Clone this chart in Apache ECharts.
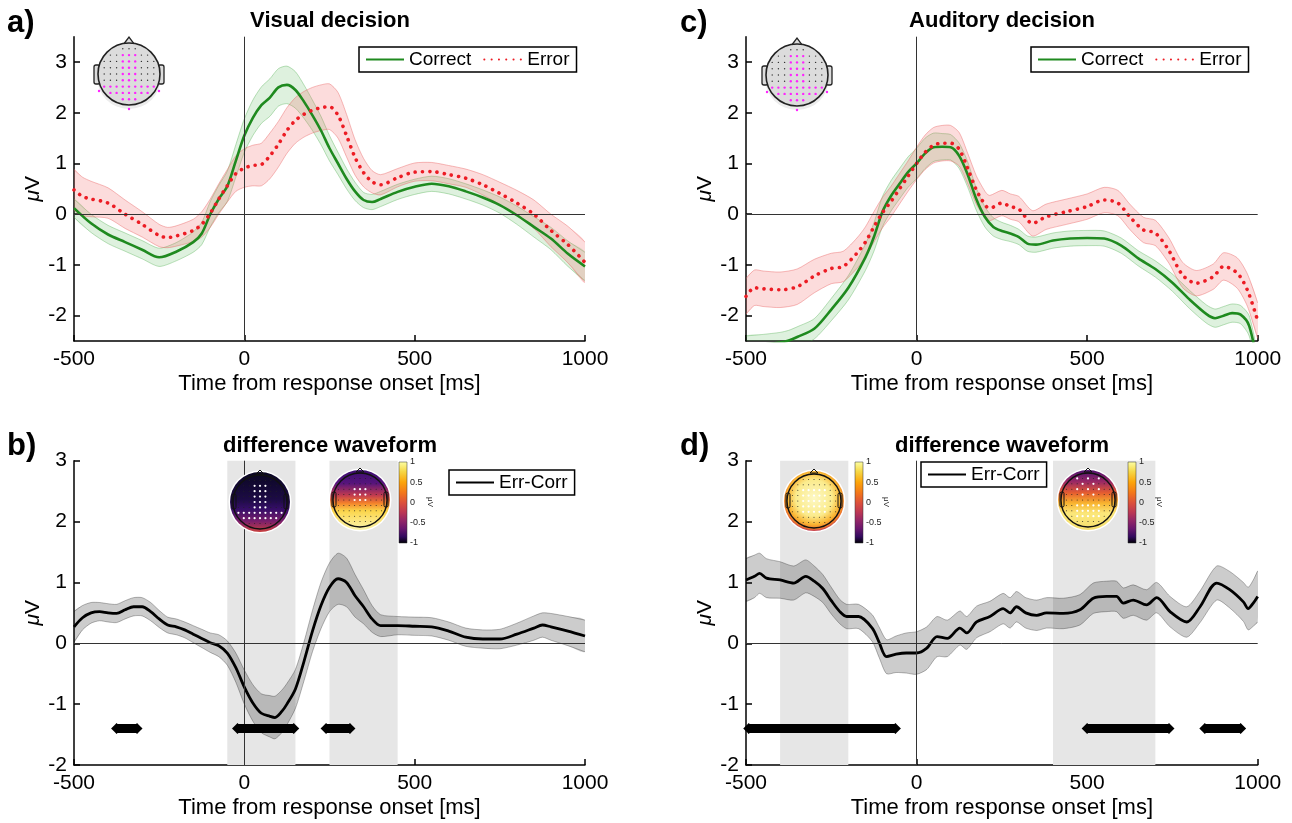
<!DOCTYPE html>
<html><head><meta charset="utf-8">
<script src="https://cdn.jsdelivr.net/npm/echarts@6/dist/echarts.min.js"></script>
<style>html,body{margin:0;padding:0;background:#fff}#c{width:1292px;height:823px}</style>
</head><body><div id="c"></div>
<script>
// ---------------- data ----------------
const xTicks = [-500, 0, 500, 1000];
const yTicks = [-2, -1, 0, 1, 2, 3];
const cbTicks = ['1', '0.5', '0', '-0.5', '-1'];

// Panel a: Visual decision
const tAC = [-500,-450,-400,-350,-300,-250,-200,-150,-125,-100,-75,-50,-25,0,25,50,75,100,125,150,175,200,225,250,275,300,325,350,375,400,450,500,550,600,650,700,750,800,850,900,950,1000];
const vAC = [0.12,-0.18,-0.4,-0.55,-0.7,-0.85,-0.74,-0.55,-0.38,0.0,0.3,0.55,1.05,1.55,1.9,2.15,2.3,2.5,2.55,2.45,2.22,1.95,1.65,1.3,1.0,0.7,0.45,0.28,0.24,0.3,0.44,0.54,0.6,0.55,0.45,0.33,0.18,-0.02,-0.25,-0.48,-0.78,-1.03];
const sAC = [0.18,0.18,0.18,0.18,0.18,0.18,0.18,0.2,0.22,0.25,0.27,0.3,0.32,0.33,0.35,0.36,0.37,0.37,0.37,0.36,0.33,0.3,0.28,0.25,0.22,0.2,0.18,0.15,0.15,0.15,0.15,0.15,0.15,0.15,0.15,0.15,0.16,0.18,0.2,0.22,0.25,0.28];
const tAE = [-500,-475,-450,-400,-350,-300,-250,-225,-200,-150,-125,-100,-75,-50,-25,0,25,50,75,100,125,150,175,200,225,250,275,300,325,350,375,400,450,500,550,600,650,700,750,800,850,900,950,1000];
const vAE = [0.48,0.35,0.3,0.22,0.0,-0.2,-0.42,-0.46,-0.43,-0.32,-0.2,0.02,0.3,0.56,0.8,0.91,0.96,0.98,1.15,1.38,1.65,1.85,1.97,2.05,2.1,2.12,1.95,1.55,1.12,0.82,0.64,0.58,0.72,0.83,0.84,0.78,0.71,0.58,0.41,0.22,0.0,-0.32,-0.6,-0.95];
const sAE = [0.4,0.38,0.35,0.3,0.28,0.25,0.22,0.2,0.2,0.22,0.25,0.28,0.3,0.32,0.35,0.38,0.4,0.42,0.45,0.45,0.45,0.45,0.45,0.45,0.45,0.45,0.45,0.42,0.35,0.28,0.22,0.2,0.18,0.18,0.18,0.18,0.18,0.2,0.22,0.25,0.28,0.32,0.36,0.4];

// Panel c: Auditory decision
const tCC = [-500,-450,-400,-375,-350,-300,-250,-200,-150,-125,-100,-75,-50,-25,0,25,50,75,100,125,150,175,200,225,250,275,300,325,350,400,450,500,550,600,650,700,750,800,850,875,900,925,950,975,1000];
const vCC = [-2.6,-2.57,-2.53,-2.49,-2.42,-2.26,-1.88,-1.45,-0.85,-0.45,0.05,0.36,0.6,0.83,1.0,1.2,1.32,1.33,1.32,1.15,0.78,0.3,-0.05,-0.25,-0.33,-0.38,-0.45,-0.58,-0.6,-0.52,-0.48,-0.47,-0.48,-0.62,-0.87,-1.08,-1.35,-1.68,-1.97,-2.05,-2.0,-1.95,-1.98,-2.2,-3.0];
const sCC = [0.2,0.2,0.2,0.2,0.2,0.2,0.22,0.24,0.26,0.28,0.3,0.3,0.3,0.3,0.3,0.3,0.28,0.26,0.25,0.25,0.25,0.22,0.2,0.18,0.17,0.16,0.15,0.15,0.15,0.15,0.15,0.15,0.15,0.15,0.15,0.16,0.17,0.18,0.18,0.18,0.18,0.18,0.18,0.2,0.22];
const tCE = [-500,-475,-450,-400,-350,-300,-250,-215,-175,-150,-125,-100,-75,-50,-25,0,25,50,75,100,125,150,175,190,205,215,250,275,300,340,380,440,500,550,590,625,665,700,740,780,820,870,900,940,970,1000];
const vCE = [-1.62,-1.45,-1.47,-1.49,-1.43,-1.22,-1.07,-1.03,-0.77,-0.55,-0.25,0.03,0.25,0.5,0.75,1.0,1.22,1.36,1.4,1.4,1.28,0.9,0.48,0.3,0.15,0.12,0.22,0.15,0.1,-0.18,-0.05,0.05,0.15,0.28,0.22,-0.05,-0.31,-0.37,-0.72,-1.2,-1.36,-1.23,-1.03,-1.16,-1.5,-2.1];
const sCE = [0.35,0.35,0.35,0.35,0.35,0.33,0.3,0.3,0.3,0.3,0.3,0.3,0.3,0.3,0.3,0.32,0.34,0.35,0.35,0.35,0.33,0.3,0.28,0.27,0.26,0.25,0.25,0.25,0.25,0.25,0.25,0.25,0.25,0.25,0.25,0.25,0.25,0.25,0.25,0.25,0.25,0.25,0.27,0.3,0.32,0.35];

// Panel b: difference waveform (visual)
const tB = [-500,-475,-450,-425,-400,-375,-350,-325,-300,-275,-250,-225,-200,-175,-150,-125,-100,-75,-50,-25,0,25,50,75,90,110,125,150,175,200,225,250,275,300,325,350,375,400,450,500,550,600,650,700,750,800,850,875,900,950,1000];
const vB = [0.27,0.42,0.5,0.52,0.5,0.49,0.55,0.6,0.6,0.52,0.4,0.3,0.27,0.22,0.15,0.08,0.01,-0.04,-0.16,-0.4,-0.72,-0.98,-1.15,-1.2,-1.22,-1.12,-1.0,-0.75,-0.3,0.2,0.62,0.92,1.06,1.0,0.78,0.6,0.4,0.29,0.29,0.28,0.27,0.2,0.1,0.07,0.07,0.15,0.25,0.3,0.27,0.2,0.12];
const sB = [0.25,0.2,0.17,0.15,0.15,0.15,0.15,0.15,0.15,0.15,0.14,0.13,0.13,0.13,0.14,0.15,0.16,0.18,0.2,0.24,0.28,0.3,0.32,0.34,0.35,0.35,0.34,0.32,0.32,0.34,0.38,0.4,0.42,0.4,0.35,0.28,0.22,0.18,0.15,0.15,0.15,0.15,0.15,0.15,0.16,0.18,0.2,0.2,0.22,0.24,0.26];
const shadeB = [[-50, 150], [250, 450]];
const sigB = [[-375, -315], [-20, 145], [240, 310]];

// Panel d: difference waveform (auditory)
const tD = [-500,-475,-460,-440,-400,-360,-325,-300,-275,-250,-225,-205,-170,-130,-110,-88,-60,-30,0,30,60,90,127,147,176,215,254,274,293,320,352,381,430,479,518,557,586,606,635,674,704,743,792,831,880,918,958,972,987,1000];
const vD = [1.04,1.1,1.15,1.07,1.04,0.99,1.1,1.02,0.9,0.7,0.52,0.44,0.44,0.25,0.02,-0.22,-0.18,-0.16,-0.16,-0.08,0.11,0.08,0.25,0.17,0.35,0.44,0.57,0.5,0.6,0.5,0.46,0.5,0.49,0.55,0.74,0.77,0.77,0.66,0.71,0.63,0.75,0.52,0.35,0.6,0.99,0.88,0.68,0.57,0.66,0.77];
const sD = [0.35,0.35,0.33,0.32,0.3,0.28,0.27,0.25,0.23,0.22,0.2,0.2,0.2,0.22,0.25,0.28,0.3,0.33,0.35,0.35,0.33,0.3,0.28,0.27,0.26,0.25,0.25,0.25,0.25,0.25,0.25,0.25,0.25,0.25,0.25,0.25,0.25,0.25,0.25,0.25,0.25,0.25,0.25,0.26,0.28,0.3,0.32,0.35,0.38,0.42];
const shadeD = [[-400, -200], [400, 700]];
const sigD = [[-492, -62], [500, 740], [845, 950]];
const sigLevel = -1.4;

// ---------------- chart ----------------
const FONT = '"Liberation Sans", Arial, Helvetica, sans-serif';
const AX = {color: '#000', width: 1.5};
const chart = echarts.init(document.getElementById('c'), null, {renderer: 'canvas'});

const grids = [
  {left: 74, top: 36.7, width: 511, height: 304.3},
  {left: 74, top: 460.7, width: 511, height: 304.3},
  {left: 746, top: 36.7, width: 511.7, height: 304.3},
  {left: 746, top: 460.7, width: 511.7, height: 304.3}
];
const yRange = [[-2.5, 3.5], [-2, 3], [-2.5, 3.5], [-2, 3]];

const xAxes = grids.map((g, i) => ({
  type: 'value', gridIndex: i, min: -500, max: 1000, interval: 500,
  axisLine: {onZero: false, lineStyle: AX},
  axisTick: {inside: true, length: 6, lineStyle: AX},
  axisLabel: {color: '#000', fontSize: 21, fontFamily: FONT, margin: 8, customValues: xTicks, formatter: v => String(v)},
  splitLine: {show: false},
  name: 'Time from response onset [ms]', nameLocation: 'middle', nameGap: 32,
  nameTextStyle: {color: '#000', fontSize: 22, fontFamily: FONT}
}));
const yAxes = grids.map((g, i) => ({
  type: 'value', gridIndex: i, min: yRange[i][0], max: yRange[i][1],
  axisLine: {show: true, onZero: false, lineStyle: AX},
  axisTick: {show: true, inside: true, length: 6, lineStyle: AX, customValues: yTicks},
  axisLabel: {color: '#000', fontSize: 21, fontFamily: FONT, margin: 7, customValues: yTicks, formatter: v => String(v)},
  splitLine: {show: false},
  name: '{i|μ}{n|V}', nameLocation: 'middle', nameRotate: 90, nameGap: 30,
  nameTextStyle: {color: '#000', fontSize: 21, fontFamily: FONT,
    rich: {i: {fontSize: 21, fontStyle: 'italic', fontFamily: FONT, color: '#000'}, n: {fontSize: 21, fontFamily: FONT, color: '#000'}}}
}));

const series = [];
function band(g, t, m, s, fill, edge) {
  const upper = t.map((x, i) => [x, m[i] + s[i]]);
  const lower = t.map((x, i) => [x, m[i] - s[i]]);
  series.push({type: 'custom', xAxisIndex: g, yAxisIndex: g, clip: true, silent: true, z: 2, data: [0],
    renderItem: (params, api) => {
      const up = upper.map(p => api.coord(p));
      const lo = lower.map(p => api.coord(p));
      return {type: 'group', children: [
        {type: 'polygon', shape: {points: up.concat(lo.slice().reverse()), smooth: 0.25}, style: {fill: fill}},
        {type: 'polyline', shape: {points: up, smooth: 0.25}, style: {fill: 'none', stroke: edge, lineWidth: 0.8}},
        {type: 'polyline', shape: {points: lo, smooth: 0.25}, style: {fill: 'none', stroke: edge, lineWidth: 0.8}}
      ]};
    }});
}
function mean(g, name, t, m, lineStyle) {
  series.push({type: 'line', name: name, xAxisIndex: g, yAxisIndex: g, symbol: 'none', smooth: 0.3,
    data: t.map((x, i) => [x, m[i]]), lineStyle: lineStyle, itemStyle: {color: lineStyle.color}, z: 4});
}
function refs(g, shade) {
  series.push({type: 'line', name: 'shade' + g, xAxisIndex: g, yAxisIndex: g, data: [], z: 1, silent: true,
    markArea: {silent: true, itemStyle: {color: '#e6e6e6'},
      data: (shade || []).map(r => [{xAxis: r[0]}, {xAxis: r[1]}])}});
  series.push({type: 'line', name: 'zero' + g, xAxisIndex: g, yAxisIndex: g, data: [], z: 3, silent: true,
    markLine: {silent: true, symbol: 'none', label: {show: false}, animation: false,
      lineStyle: {color: '#333', width: 1, type: 'solid'},
      data: [{xAxis: 0}, {yAxis: 0}]}});
}
function sig(g, ranges) {
  ranges.forEach((r, k) => {
    series.push({type: 'line', name: 'sig' + g + '_' + k, xAxisIndex: g, yAxisIndex: g, z: 6, silent: true,
      data: [[r[0], sigLevel], [r[1], sigLevel]],
      symbol: 'path://M0,5 L3,2 L5,0 L7,2 L10,5 L7,8 L5,10 L3,8 Z', symbolSize: [11, 11], showSymbol: true,
      itemStyle: {color: '#000'}, lineStyle: {color: '#000', width: 9}});
  });
}

const GREEN = '#1f8a1f', RED = '#ec1c24';
const gFill = 'rgba(70,175,70,0.18)', gEdge = 'rgba(70,170,70,0.45)';
const rFill = 'rgba(240,95,95,0.22)', rEdge = 'rgba(235,100,100,0.55)';
const kFill = 'rgba(0,0,0,0.2)', kEdge = 'rgba(0,0,0,0.35)';
const redLine = {color: RED, width: 3.6, type: [0.1, 7.2], cap: 'round'};
const greenLine = {color: GREEN, width: 2.6};
const blackLine = {color: '#000', width: 2.8};

// a
refs(0);
band(0, tAC, vAC, sAC, gFill, gEdge);
band(0, tAE, vAE, sAE, rFill, rEdge);
mean(0, 'Correct', tAC, vAC, greenLine);
mean(0, 'Error', tAE, vAE, redLine);
// c
refs(2);
band(2, tCC, vCC, sCC, gFill, gEdge);
band(2, tCE, vCE, sCE, rFill, rEdge);
mean(2, 'Correct', tCC, vCC, greenLine);
mean(2, 'Error', tCE, vCE, redLine);
// b
refs(1, shadeB);
band(1, tB, vB, sB, kFill, kEdge);
mean(1, 'Err-Corr', tB, vB, blackLine);
sig(1, sigB);
// d
refs(3, shadeD);
band(3, tD, vD, sD, kFill, kEdge);
mean(3, 'Err-Corr', tD, vD, blackLine);
sig(3, sigD);

function legend(left, top, names) {
  return {left: left, top: top, data: names, orient: 'horizontal', selectedMode: false,
    borderColor: '#000', borderWidth: 1.5, padding: [3, 7, 3, 6], itemGap: 12, itemWidth: 38, itemHeight: 14,
    itemStyle: {opacity: 0},
    textStyle: {color: '#000', fontSize: 19, fontFamily: FONT}, backgroundColor: '#fff'};
}

// ---------------- decorations (graphic) ----------------
const gfx = [];
function txt(x, y, s, font, opts) {
  gfx.push(Object.assign({type: 'text', x: x, y: y, z: 120, silent: true,
    style: {text: s, font: font, fill: '#000', align: 'center', verticalAlign: 'middle',
      textAlign: 'center', textVerticalAlign: 'middle'}}, opts || {}));
}
function lin(stops) { return {type: 'linear', x: 0, y: 0, x2: 0, y2: 1, colorStops: stops.map(s => ({offset: s[0], color: s[1]}))}; }
function rad(stops) { return {type: 'radial', x: 0.5, y: 0.45, r: 0.55, colorStops: stops.map(s => ({offset: s[0], color: s[1]}))}; }

function head(cx, cy, r) {
  gfx.push({type: 'circle', z: 100, silent: true, shape: {cx: cx, cy: cy + 3, r: r + 1}, style: {fill: '#ececec'}});
  gfx.push({type: 'polygon', z: 100, silent: true, shape: {points: [[cx - 6, cy - r + 2], [cx, cy - r - 6], [cx + 6, cy - r + 2]]}, style: {fill: '#ddd', stroke: '#222', lineWidth: 1.3}});
  gfx.push({type: 'rect', z: 100, silent: true, shape: {x: cx - r - 4, y: cy - 9, width: 6, height: 19, r: 2}, style: {fill: '#ddd', stroke: '#222', lineWidth: 1.3}});
  gfx.push({type: 'rect', z: 100, silent: true, shape: {x: cx + r - 2, y: cy - 9, width: 6, height: 19, r: 2}, style: {fill: '#ddd', stroke: '#222', lineWidth: 1.3}});
  gfx.push({type: 'circle', z: 101, silent: true, shape: {cx: cx, cy: cy, r: r}, style: {fill: '#dcdcdc', stroke: '#222', lineWidth: 1.6}});
  for (let row = -4; row <= 4; row++) {
    for (let col = -4; col <= 4; col++) {
      const x = cx + col * 6.2, y = cy + row * 6.3;
      if (Math.hypot(x - cx, y - cy) > r - 3) continue;
      const mag = row >= 2 || (row >= -3 && Math.abs(col) <= 1);
      gfx.push({type: 'circle', z: 102, silent: true, shape: {cx: x, cy: y, r: mag ? 1.2 : 0.7}, style: {fill: mag ? '#ff22ff' : '#333'}});
    }
  }
  [[cx - r + 1, cy + 17], [cx + r - 1, cy + 17], [cx, cy + r + 4]].forEach(p =>
    gfx.push({type: 'circle', z: 102, silent: true, shape: {cx: p[0], cy: p[1], r: 1.2}, style: {fill: '#ff22ff'}}));
}
head(129, 74, 31);
head(797, 75, 31);

function topo(cx, cy, fill, isWhite) {
  const r = 30;
  gfx.push({type: 'circle', z: 100, silent: true, shape: {cx: cx, cy: cy, r: r + 1.5}, style: {fill: '#fff'}});
  gfx.push({type: 'circle', z: 101, silent: true, shape: {cx: cx, cy: cy, r: r}, style: {fill: fill}});
  gfx.push({type: 'polygon', z: 102, silent: true, shape: {points: [[cx - 4, cy - r + 2], [cx, cy - r - 2], [cx + 4, cy - r + 2]]}, style: {fill: 'none', stroke: '#111', lineWidth: 1}});
  gfx.push({type: 'rect', z: 102, silent: true, shape: {x: cx - r + 2, y: cy - 8, width: 4, height: 15, r: 1.5}, style: {fill: 'none', stroke: '#111', lineWidth: 1}});
  gfx.push({type: 'rect', z: 102, silent: true, shape: {x: cx + r - 6, y: cy - 8, width: 4, height: 15, r: 1.5}, style: {fill: 'none', stroke: '#111', lineWidth: 1}});
  gfx.push({type: 'circle', z: 102, silent: true, shape: {cx: cx, cy: cy, r: r - 3}, style: {fill: 'none', stroke: '#111', lineWidth: 1.4}});
  for (let row = -4; row <= 4; row++) {
    for (let col = -4; col <= 4; col++) {
      const x = cx + col * 5.4, y = cy + row * 5.4;
      if (Math.hypot(x - cx, y - cy) > r - 5) continue;
      const w = isWhite(row, col);
      gfx.push({type: 'circle', z: 103, silent: true, shape: {cx: x, cy: y, r: w ? 1.1 : 0.5}, style: {fill: w ? '#fff' : '#222'}});
    }
  }
}
const inferno = lin([[0, '#fcffa4'], [0.12, '#f6d746'], [0.25, '#fca50a'], [0.38, '#f3771a'], [0.5, '#dd513a'], [0.62, '#bc3754'], [0.72, '#932667'], [0.82, '#6a176e'], [0.92, '#320a5e'], [1, '#000004']]);
function colorbar(x, y) {
  gfx.push({type: 'rect', z: 100, silent: true, shape: {x: x, y: y, width: 8, height: 81}, style: {fill: inferno, stroke: '#333', lineWidth: 0.5}});
  cbTicks.forEach((s, i) => {
    gfx.push({type: 'text', z: 110, silent: true, x: x + 11, y: y + i * 20.25,
      style: {text: s, font: '9px ' + FONT, fill: '#222', align: 'left', verticalAlign: 'middle', textAlign: 'left', textVerticalAlign: 'middle'}});
  });
  gfx.push({type: 'text', z: 110, silent: true, x: x + 31, y: y + 40, rotation: -Math.PI / 2,
    style: {text: 'μV', font: '8px ' + FONT, fill: '#222', align: 'center', verticalAlign: 'middle', textAlign: 'center', textVerticalAlign: 'middle'}});
}

topo(260, 502, lin([[0, '#0a0722'], [0.45, '#1c0b44'], [0.62, '#360e68'], [0.82, '#7a1f6c'], [1, '#c9413f']]),
  (r, c) => (Math.abs(c) <= 1 && r >= -3 && r <= 1) || (r >= 2 && r <= 3));
topo(360, 500, lin([[0, '#3b0f70'], [0.22, '#56147c'], [0.42, '#c13a50'], [0.55, '#f3802a'], [0.68, '#fbd54a'], [1, '#fcf6b0']]),
  (r, c) => Math.abs(c) <= 1 && r >= -2 && r <= 0);
colorbar(399, 462);
topo(814, 501, rad([[0, '#fdf8c4'], [0.55, '#fbeb8c'], [0.8, '#f9b532'], [0.93, '#ee7a2a'], [1, '#c23b55']]),
  (r, c) => Math.abs(r) <= 2 && Math.abs(c) <= 2);
colorbar(855, 462);
topo(1088, 500, lin([[0, '#4e1170'], [0.2, '#9b2964'], [0.38, '#e55c30'], [0.55, '#f8b32e'], [0.72, '#fbe77a'], [1, '#f6e070']]),
  (r, c) => (r <= -1 && Math.abs(c) <= 2 && (r + c) % 2 === 0) || (r >= 1 && r <= 3 && Math.abs(c) <= 2));
colorbar(1128, 462);

// titles and panel letters
const TB = 'bold 22px ' + FONT;
txt(330, 21, 'Visual decision', TB);
txt(1002, 21, 'Auditory decision', TB);
txt(330, 446, 'difference waveform', TB);
txt(1002, 446, 'difference waveform', TB);
const LB = 'bold 31px ' + FONT;
[[7, 23, 'a)'], [7, 446, 'b)'], [680, 23, 'c)'], [680, 446, 'd)']].forEach(p =>
  gfx.push({type: 'text', z: 120, silent: true, x: p[0], y: p[1], style: {text: p[2], font: LB, fill: '#000', align: 'left', verticalAlign: 'middle', textAlign: 'left', textVerticalAlign: 'middle'}}));

chart.setOption({
  animation: false,
  backgroundColor: '#fff',
  textStyle: {fontFamily: FONT},
  grid: grids,
  xAxis: xAxes,
  yAxis: yAxes,
  legend: [
    legend(359, 47, ['Correct', 'Error']),
    legend(1031, 47, ['Correct', 'Error']),
    legend(449, 470, ['Err-Corr']),
    legend(921, 462, ['Err-Corr'])
  ],
  series: series,
  graphic: {elements: gfx}
});
</script></body></html>
